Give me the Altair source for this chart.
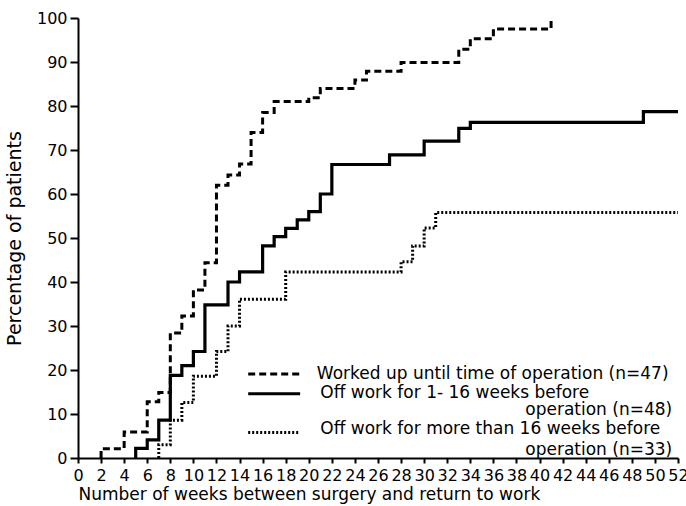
import altair as alt
import pandas as pd

# Worked up until time of operation (n=47)
weeks_a = [2, 2, 4, 6, 7, 8, 9, 10, 11, 12, 13, 14, 15, 16, 17, 20, 21, 24, 25, 28, 33, 34, 36, 41]
pct_a = [0, 2.1, 5.9, 12.8, 14.9, 28.4, 32.3, 38.2, 44.4, 62, 64.3, 66.8, 74, 78.5, 81, 81.9, 84,
         85.9, 87.9, 89.9, 92.9, 95.3, 97.5, 100]

# Off work for 1-16 weeks before operation (n=48)
weeks_b = [5, 5, 6, 7, 8, 9, 10, 11, 13, 14, 16, 17, 18, 19, 20, 21, 22, 27, 30, 33, 34, 49, 52]
pct_b = [0, 2.2, 4.1, 8.6, 18.8, 21, 24.2, 34.8, 40, 42.3, 48.2, 50.3, 52.2, 54.1, 56, 60, 66.7,
         68.9, 72, 74.9, 76.3, 78.7, 78.7]

# Off work for more than 16 weeks before operation (n=33)
weeks_c = [7, 7, 8, 9, 10, 12, 13, 14, 18, 28, 29, 30, 31, 52]
pct_c = [0, 3, 8.6, 12.6, 18.6, 24.2, 30, 36.1, 42.3, 44.6, 48.2, 52.3, 55.8, 55.8]

x_ticks = list(range(0, 53, 2))
y_ticks = list(range(0, 101, 10))

legend_lines = ["Worked up until time of operation (n=47)",
                "Off work for 1- 16 weeks before",
                "operation (n=48)",
                "Off work for more than 16 weeks before",
                "operation (n=33)"]

FONT = "DejaVu Sans"

x_scale = alt.Scale(domain=[0, 52], nice=False, zero=False)
y_scale = alt.Scale(domain=[0, 100], nice=False)

x_axis = alt.Axis(values=x_ticks, title="Number of weeks between surgery and return to work",
                  titleAnchor="start", titleAlign="left", titlePadding=3, titleFontSize=17,
                  labelAngle=0, labelFlush=False, labelOverlap=False, labelBound=False,
                  tickSize=5, labelPadding=4, format="d")
y_axis = alt.Axis(values=y_ticks, title="Percentage of patients", titlePadding=12,
                  titleFontSize=19, tickSize=8, labelPadding=3, labelOverlap=False)

df_a = pd.DataFrame({"week": weeks_a, "pct": pct_a})
df_b = pd.DataFrame({"week": weeks_b, "pct": pct_b})
df_c = pd.DataFrame({"week": weeks_c, "pct": pct_c})


def curve(df, dash, width):
    kw = dict(interpolate="step-after", color="black", strokeWidth=width, strokeCap="butt")
    if dash:
        kw["strokeDash"] = dash
    return alt.Chart(df).mark_line(**kw).encode(
        x=alt.X("week:Q", scale=x_scale, axis=x_axis),
        y=alt.Y("pct:Q", scale=y_scale, axis=y_axis),
    )


line_a = curve(df_a, [7, 4], 3)
line_b = curve(df_b, None, 3.2)
line_c = curve(df_c, [2, 2], 3)

# Legend samples (in data coordinates)
leg_df = pd.DataFrame({
    "x1": [14.75, 14.75, 14.75],
    "x2": [19.25, 19.25, 19.25],
    "y": [19.1, 14.6, 5.8],
    "style": ["a", "b", "c"],
})


def leg_rule(style, dash, width):
    kw = dict(color="black", strokeWidth=width, strokeCap="butt")
    if dash:
        kw["strokeDash"] = dash
    return alt.Chart(leg_df[leg_df["style"] == style]).mark_rule(**kw).encode(
        x=alt.X("x1:Q", scale=x_scale, axis=x_axis), x2="x2:Q",
        y=alt.Y("y:Q", scale=y_scale, axis=y_axis))


rule_a = leg_rule("a", [7, 4], 3)
rule_b = leg_rule("b", None, 3.2)
rule_c = leg_rule("c", [2, 2], 3)

txt_left = pd.DataFrame({"x": [20.7, 21.0, 21.0],
                         "y": [19.1, 14.8, 6.6],
                         "t": [legend_lines[0], legend_lines[1], legend_lines[3]]})
txt_right = pd.DataFrame({"x": [51.5, 51.5],
                          "y": [10.9, 1.9],
                          "t": [legend_lines[2], legend_lines[4]]})

text_l = alt.Chart(txt_left).mark_text(align="left", baseline="middle", font=FONT,
                                       fontSize=17, color="black").encode(
    x=alt.X("x:Q", scale=x_scale, axis=x_axis), y=alt.Y("y:Q", scale=y_scale, axis=y_axis),
    text="t:N")
text_r = alt.Chart(txt_right).mark_text(align="right", baseline="middle", font=FONT,
                                        fontSize=17, color="black").encode(
    x=alt.X("x:Q", scale=x_scale, axis=x_axis), y=alt.Y("y:Q", scale=y_scale, axis=y_axis),
    text="t:N")

chart = alt.layer(line_c, line_b, line_a, rule_a, rule_b, rule_c, text_l, text_r).properties(
    width=600, height=440,
    padding={"left": 78, "top": 18, "right": 8, "bottom": 48},
    autosize="none",
).configure_view(stroke=None).configure_axis(
    grid=False,
    domainColor="black", domainWidth=2,
    tickColor="black", tickWidth=2,
    labelFont=FONT, labelFontSize=16, labelColor="black", labelOverlap=False,
    titleFont=FONT, titleFontWeight="normal", titleColor="black",
)

chart.save("out.html", embed_options={"renderer": "svg", "actions": False})
